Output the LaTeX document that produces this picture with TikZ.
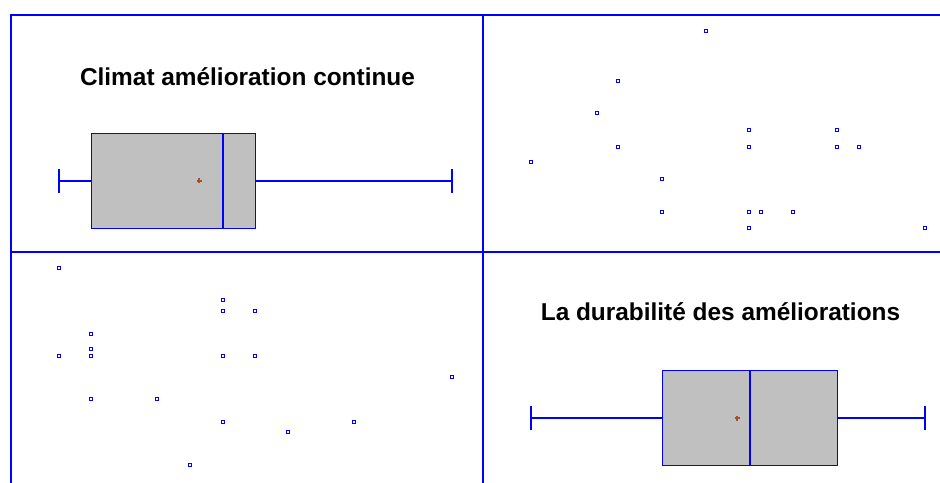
\documentclass[tikz,border=0pt]{standalone}
\usepackage{fontspec}
\setmainfont{Liberation Sans}
\definecolor{plotblue}{RGB}{0,0,255}
\definecolor{boxgrey}{RGB}{192,192,192}
\definecolor{meanbrown}{RGB}{160,82,45}
\tikzset{
  frameline/.style={color=plotblue, line width=1.4bp},
  boxbody/.style={color=plotblue, fill=boxgrey, line width=1.2bp},
  medianline/.style={color=plotblue, line width=2bp},
  whisker/.style={color=plotblue, line width=1.4bp},
  meanmark/.style={color=meanbrown, line width=1.2bp},
  pt/.style={color=plotblue, draw, rectangle, line width=1.05bp, minimum size=3bp, inner sep=0pt, outer sep=0pt, fill=white},
  plottitle/.style={font=\fontsize{24.4bp}{28bp}\selectfont\bfseries, anchor=base, inner sep=0pt}
}
\begin{document}
\begin{tikzpicture}[x=1bp,y=-1bp]
\useasboundingbox (0,0) rectangle (940,483);
% frame
\draw[frameline] (11,252) -- (940,252);
\draw[frameline] (483,15) -- (483,483);
\draw[frameline] (11,483) -- (11,15) -- (940,15);

% ---- top-left box plot
\node[plottitle] (t1) at (247.5,85.5) {Climat amélioration continue};
\draw[whisker] (59,169) -- (59,193);
\draw[whisker] (452,169) -- (452,193);
\draw[whisker] (59,181) -- (91.5,181);
\draw[whisker] (255.5,181) -- (452,181);
\draw[boxbody] (91.5,133.5) rectangle (255.5,228.5);
\draw[medianline] (223,133.5) -- (223,228.5);
\draw[meanmark] (196.5,181) -- (201.5,181) (199,178.5) -- (199,183.5);

% ---- bottom-right box plot
\node[plottitle] (t2) at (720.5,321) {La durabilité des améliorations};
\draw[whisker] (531,405.5) -- (531,429.5);
\draw[whisker] (925,405.5) -- (925,429.5);
\draw[whisker] (531,418) -- (662.5,418);
\draw[whisker] (837.5,418) -- (925,418);
\draw[boxbody] (662.5,370.5) rectangle (837.5,465.5);
\draw[medianline] (750,370.5) -- (750,465.5);
\draw[meanmark] (734.5,418) -- (739.5,418) (737,415.5) -- (737,420.5);

% ---- top-right scatter
\node[pt] (a1) at (706,31) {};
\node[pt] (a2) at (618,81) {};
\node[pt] (a3) at (597,113) {};
\node[pt] (a4) at (749,130) {};
\node[pt] (a5) at (837,130) {};
\node[pt] (a6) at (618,147) {};
\node[pt] (a7) at (749,147) {};
\node[pt] (a8) at (837,147) {};
\node[pt] (a9) at (859,147) {};
\node[pt] (a10) at (531,162) {};
\node[pt] (a11) at (662,179) {};
\node[pt] (a12) at (662,212) {};
\node[pt] (a13) at (749,212) {};
\node[pt] (a14) at (761,212) {};
\node[pt] (a15) at (793,212) {};
\node[pt] (a16) at (749,228) {};
\node[pt] (a17) at (925,228) {};

% ---- bottom-left scatter
\node[pt] (b1) at (59,268) {};
\node[pt] (b2) at (223,300) {};
\node[pt] (b3) at (223,311) {};
\node[pt] (b4) at (255,311) {};
\node[pt] (b5) at (91,334) {};
\node[pt] (b6) at (91,349) {};
\node[pt] (b7) at (59,356) {};
\node[pt] (b8) at (91,356) {};
\node[pt] (b9) at (223,356) {};
\node[pt] (b10) at (255,356) {};
\node[pt] (b11) at (452,377) {};
\node[pt] (b12) at (91,399) {};
\node[pt] (b13) at (157,399) {};
\node[pt] (b14) at (223,422) {};
\node[pt] (b15) at (354,422) {};
\node[pt] (b16) at (288,432) {};
\node[pt] (b17) at (190,465) {};
\end{tikzpicture}
\end{document}
